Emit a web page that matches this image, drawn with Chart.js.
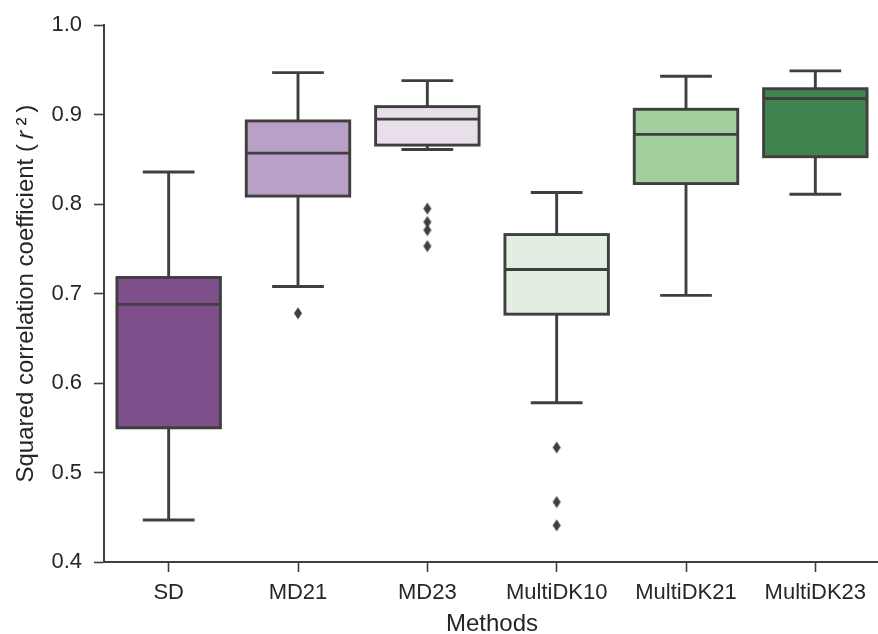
<!DOCTYPE html>
<html>
<head>
<meta charset="utf-8">
<script src="https://cdn.jsdelivr.net/npm/chart.js@4/dist/chart.umd.min.js"></script>
<style>
html,body{margin:0;padding:0;background:#fff;overflow:hidden;}
#wrap{width:886px;height:634px;}
</style>
</head>
<body>
<div id="wrap"><canvas id="c" width="886" height="634"></canvas></div>
<script>
const categories = ['SD','MD21','MD23','MultiDK10','MultiDK21','MultiDK23'];
const whiskerLow  = [0.447, 0.708, 0.861, 0.578, 0.698, 0.811];
const q1Values    = [0.550, 0.809, 0.866, 0.677, 0.823, 0.853];
const medians     = [0.688, 0.857, 0.895, 0.727, 0.878, 0.918];
const q3Values    = [0.718, 0.893, 0.909, 0.766, 0.906, 0.929];
const whiskerHigh = [0.836, 0.947, 0.938, 0.813, 0.943, 0.949];
const outlierCats   = ['MD21','MD23','MD23','MD23','MD23','MultiDK10','MultiDK10','MultiDK10'];
const outlierValues = [0.678, 0.795, 0.780, 0.771, 0.753, 0.528, 0.467, 0.441];
const yTicks = [0.4, 0.5, 0.6, 0.7, 0.8, 0.9, 1.0];
const boxColors = ['#7e4f8a','#b9a0c6','#e9dfeb','#e1eee1','#a3cf9f','#3f834e'];

const LINE = '#3f3f3f';
const FONT = "'Liberation Sans', Arial, Helvetica, sans-serif";

// thin diamond marker
const diamond = document.createElement('canvas');
diamond.width = 10; diamond.height = 13;
{
  const g = diamond.getContext('2d');
  g.fillStyle = LINE;
  g.beginPath();
  g.moveTo(5, 0.6); g.lineTo(9, 6.5); g.lineTo(5, 12.4); g.lineTo(1, 6.5);
  g.closePath(); g.fill();
}

const boxPlugin = {
  id: 'boxWhiskers',
  afterDatasetsDraw(chart) {
    const ctx = chart.ctx;
    const xs = chart.scales.x, ys = chart.scales.y;
    const meta = chart.getDatasetMeta(0);
    ctx.save();
    ctx.strokeStyle = LINE;
    ctx.lineWidth = 2.9;
    ctx.lineCap = 'butt';
    categories.forEach((c, i) => {
      const bar = meta.data[i];
      const cx = xs.getPixelForValue(i);
      const half = bar.width / 2;
      const capHalf = bar.width / 4;
      const yLo = ys.getPixelForValue(whiskerLow[i]);
      const yHi = ys.getPixelForValue(whiskerHigh[i]);
      const yQ1 = ys.getPixelForValue(q1Values[i]);
      const yQ3 = ys.getPixelForValue(q3Values[i]);
      const yMed = ys.getPixelForValue(medians[i]);
      ctx.beginPath();
      ctx.moveTo(cx, yQ3); ctx.lineTo(cx, yHi);
      ctx.moveTo(cx, yQ1); ctx.lineTo(cx, yLo);
      ctx.moveTo(cx - capHalf, yHi); ctx.lineTo(cx + capHalf, yHi);
      ctx.moveTo(cx - capHalf, yLo); ctx.lineTo(cx + capHalf, yLo);
      ctx.stroke();
      ctx.strokeRect(cx - half, yQ3, bar.width, yQ1 - yQ3);
      ctx.beginPath();
      ctx.moveTo(cx - half, yMed); ctx.lineTo(cx + half, yMed);
      ctx.stroke();
    });
    ctx.restore();
  }
};

new Chart(document.getElementById('c'), {
  type: 'bar',
  data: {
    labels: categories,
    datasets: [
      {
        type: 'bar',
        data: categories.map((c, i) => [q1Values[i], q3Values[i]]),
        backgroundColor: boxColors,
        borderWidth: 0,
        barPercentage: 0.8,
        categoryPercentage: 1.0,
        order: 2
      },
      {
        type: 'scatter',
        data: outlierCats.map((c, i) => ({x: c, y: outlierValues[i]})),
        pointStyle: diamond,
        pointRadius: 5,
        order: 1
      }
    ]
  },
  options: {
    responsive: false,
    animation: false,
    events: [],
    layout: {padding: {top: 25, right: 2, left: 0, bottom: 0}},
    plugins: {legend: {display: false}, tooltip: {enabled: false}},
    scales: {
      x: {
        type: 'category',
        offset: true,
        grid: {display: true, drawOnChartArea: false, drawTicks: true, offset: false,
               tickLength: 10, tickColor: LINE, tickWidth: 1.6},
        border: {display: true, color: LINE, width: 2},
        ticks: {color: '#262626', font: {family: FONT, size: 22}, padding: 8, maxRotation: 0},
        title: {display: true, text: 'Methods', color: '#262626',
                font: {family: FONT, size: 24}, padding: {top: 0, bottom: -5}},
        afterFit(scale) { scale.height = 72; }
      },
      y: {
        min: 0.4, max: 1.0,
        afterBuildTicks(scale) { scale.ticks = yTicks.map(v => ({value: v})); },
        grid: {display: true, drawOnChartArea: false, drawTicks: true,
               tickLength: 10, tickColor: LINE, tickWidth: 1.6},
        border: {display: true, color: LINE, width: 2},
        ticks: {color: '#262626', font: {family: FONT, size: 22}, padding: 12,
                callback: v => Number(v).toFixed(1)},
        title: {display: true, text: 'Squared correlation coefficient (\u2009𝑟\u2009²\u2009)', color: '#262626',
                font: {family: FONT, size: 24}, padding: {top: 12, bottom: 0}},
        afterFit(scale) { scale.width = 104; }
      }
    }
  },
  plugins: [boxPlugin]
});
</script>
</body>
</html>
